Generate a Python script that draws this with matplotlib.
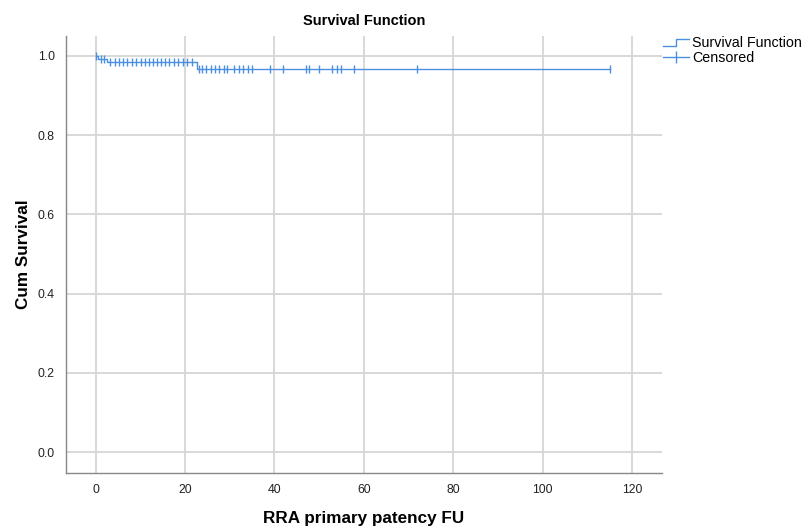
import matplotlib
matplotlib.use("Agg")
import matplotlib.pyplot as plt
from matplotlib.lines import Line2D
from matplotlib.legend_handler import HandlerBase

# ---- data ----
event_times = [0.0, 0.6, 2.5, 22.8]
survival_levels = [1.0, 0.993, 0.985, 0.967]
last_time = 115.0
censored_times = [0.2, 1.3, 2.0,
                  3.3, 4.3, 5.2, 6.1, 7.1, 8.1, 9.1, 10.1, 11.0, 11.9, 12.8, 13.8,
                  14.7, 15.6, 16.5, 17.5, 18.5, 19.5, 20.5, 21.5,
                  23.1, 23.9, 24.8, 25.8, 26.7, 27.6, 28.7, 29.5, 30.9, 32.0, 33.0,
                  34.0, 35.0, 39.1, 42.0, 47.1, 47.8, 50.0, 52.9, 53.9, 54.8, 57.9,
                  72.0, 115.0]
x_ticks = [0, 20, 40, 60, 80, 100, 120]
y_ticks = [0.0, 0.2, 0.4, 0.6, 0.8, 1.0]
title = "Survival Function"
x_label = "RRA primary patency FU"
y_label = "Cum Survival"
legend_labels = ["Survival Function", "Censored"]

plt.rcParams['font.family'] = ['Liberation Sans', 'DejaVu Sans']

color = "#4a8fe0"

def surv_at(t):
    s = survival_levels[0]
    for et, lv in zip(event_times, survival_levels):
        if t >= et:
            s = lv
    return s

fig = plt.figure(figsize=(8.08, 5.30), dpi=100)
ax = fig.add_axes([66/808, 1-473/530, (662-66)/808, (473-36)/530])

xs = event_times + [last_time]
ys = survival_levels + [survival_levels[-1]]
ax.step(xs, ys, where='post', color=color, lw=1.0, zorder=3)
cy = [surv_at(t) for t in censored_times]
ax.plot(censored_times, cy, ls='none', marker='|', ms=6, mew=1.0, color=color, zorder=3)

ax.set_xlim(-6.6, 126.7)
ax.set_ylim(-0.053, 1.05)
ax.set_xticks(x_ticks)
ax.set_yticks(y_ticks)
ax.set_yticklabels([f"{v:.1f}" for v in y_ticks])
ax.grid(True, color="#d6d6d6", lw=1.3, zorder=0)
ax.set_axisbelow(True)
ax.tick_params(length=0, labelsize=8.8, pad=8, colors="#222222")
for s in ['top', 'right']:
    ax.spines[s].set_visible(False)
for s in ['left', 'bottom']:
    ax.spines[s].set_color("#888888")
    ax.spines[s].set_linewidth(1.0)

ax.set_title(title, fontsize=10.5, fontweight='bold', pad=8)
ax.set_xlabel(x_label, fontsize=12.3, fontweight='bold', labelpad=11)
ax.set_ylabel(y_label, fontsize=12.3, fontweight='bold', labelpad=5)


class StepHandler(HandlerBase):
    def create_artists(self, legend, orig_handle, xdescent, ydescent, width, height, fontsize, trans):
        x0 = -xdescent
        y0 = -ydescent
        xs = [x0, x0 + width*0.5, x0 + width*0.5, x0 + width]
        ys = [y0 + height*0.1, y0 + height*0.1, y0 + height*0.8, y0 + height*0.8]
        l = Line2D(xs, ys, color=color, lw=1.0, transform=trans)
        return [l]

h1 = Line2D([], [], color=color, lw=1.0)
h2 = Line2D([], [], color=color, lw=1.0, marker='|', ms=9, mew=1.0)
leg = fig.legend([h1, h2], legend_labels, handler_map={h1: StepHandler()},
                 loc='upper left', bbox_to_anchor=(663/808, 1-36/530),
                 frameon=False, fontsize=10.3, handlelength=1.8, handletextpad=0.25,
                 labelspacing=0.08, borderaxespad=0, borderpad=0, numpoints=1)

fig.savefig("out.png", dpi=100)
